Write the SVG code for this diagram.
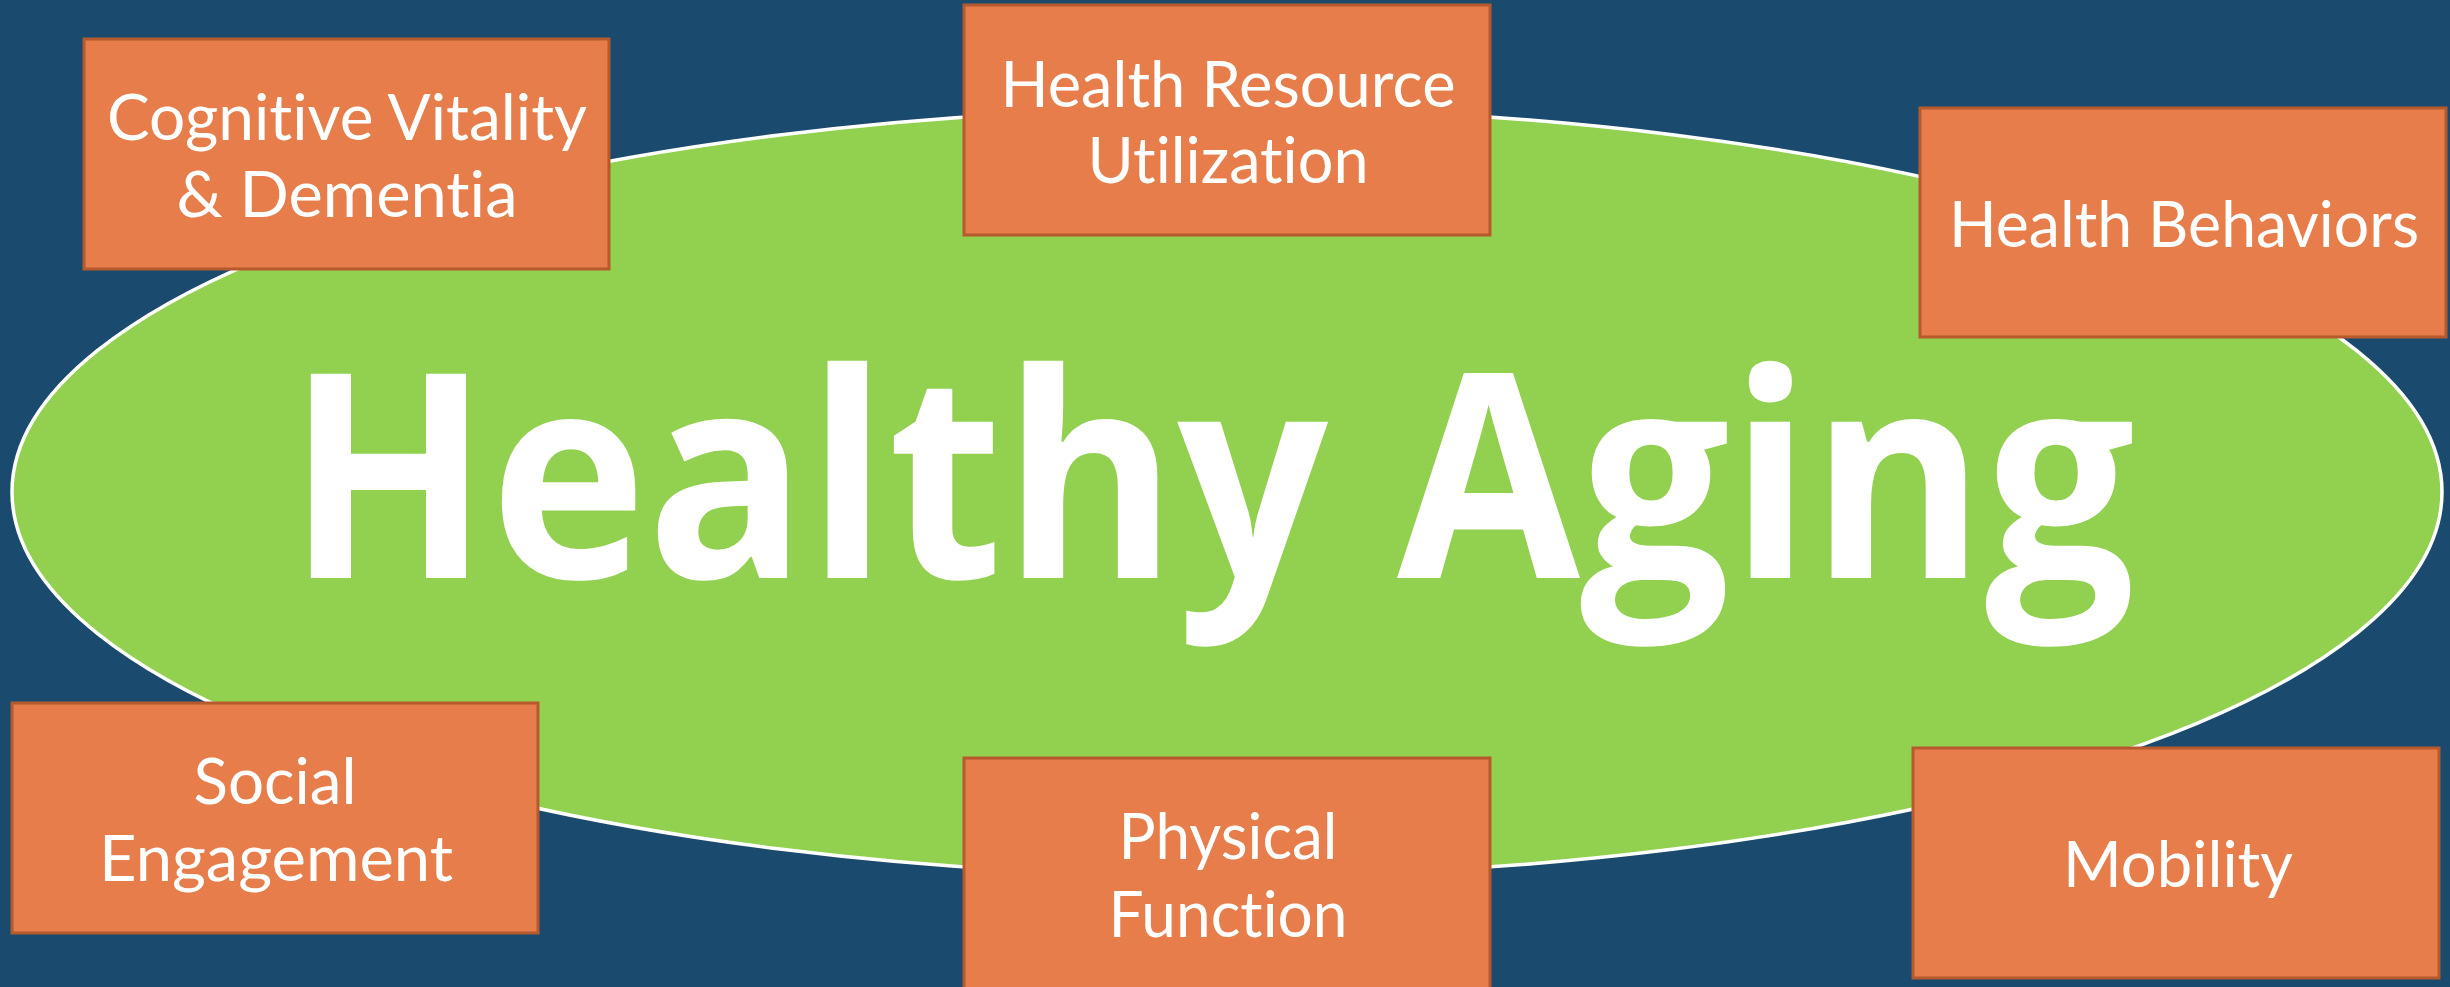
<svg xmlns="http://www.w3.org/2000/svg" width="2450" height="987" viewBox="0 0 2450 987">
  <style>
    .bg { fill: #1A4A6E; }
    .core { fill: #92D050; stroke: #FFFFFF; stroke-width: 3.5; }
    .title { fill: #FFFFFF; font-family: "Open Sans", "Noto Sans", "Liberation Sans", sans-serif; font-weight: 700; font-size: 286px; }
    .box { fill: #E67D4A; stroke: #B65A2E; stroke-width: 3; }
    .label { fill: #FFFFFF; font-family: Lato, "Open Sans", "Liberation Sans", sans-serif; font-weight: 400; font-size: 63px; text-anchor: middle;
             font-variant-ligatures: none; font-feature-settings: "liga" 0, "clig" 0, "dlig" 0; }
  </style>

  <!-- backdrop -->
  <rect class="bg" x="0" y="0" width="2450" height="987"/>

  <!-- central theme -->
  <g id="healthy-aging">
    <ellipse class="core" cx="1227" cy="492" rx="1215" ry="384"/>
    <text class="title" x="287" y="578" textLength="1848" lengthAdjust="spacingAndGlyphs">Healthy Aging</text>
  </g>

  <!-- no connectors in this figure -->
  <g id="connectors"/>

  <!-- surrounding domains -->
  <g id="cognitive-vitality">
    <rect class="box" x="84" y="39" width="525" height="230"/>
    <text class="label" x="347" y="140" textLength="480" lengthAdjust="spacingAndGlyphs">Cognitive Vitality</text>
    <text class="label" x="347" y="217" textLength="341" lengthAdjust="spacingAndGlyphs">&amp; Dementia</text>
  </g>

  <g id="health-resource-utilization">
    <rect class="box" x="964" y="5" width="526" height="230"/>
    <text class="label" x="1228" y="107" textLength="455" lengthAdjust="spacingAndGlyphs">Health Resource</text>
    <text class="label" x="1228" y="183" textLength="281" lengthAdjust="spacingAndGlyphs">Utilization</text>
  </g>

  <g id="health-behaviors">
    <rect class="box" x="1920" y="108" width="526" height="229"/>
    <text class="label" x="2184" y="247" textLength="470" lengthAdjust="spacingAndGlyphs">Health Behaviors</text>
  </g>

  <g id="social-engagement">
    <rect class="box" x="12" y="703" width="526" height="230"/>
    <text class="label" x="275" y="804" textLength="163" lengthAdjust="spacingAndGlyphs">Social</text>
    <text class="label" x="276" y="881" textLength="354" lengthAdjust="spacingAndGlyphs">Engagement</text>
  </g>

  <g id="physical-function">
    <rect class="box" x="964" y="758" width="526" height="232"/>
    <text class="label" x="1228" y="859" textLength="219" lengthAdjust="spacingAndGlyphs">Physical</text>
    <text class="label" x="1228" y="937" textLength="239" lengthAdjust="spacingAndGlyphs">Function</text>
  </g>

  <g id="mobility">
    <rect class="box" x="1913" y="748" width="526" height="230"/>
    <text class="label" x="2178" y="887" textLength="230" lengthAdjust="spacingAndGlyphs">Mobility</text>
  </g>
</svg>
